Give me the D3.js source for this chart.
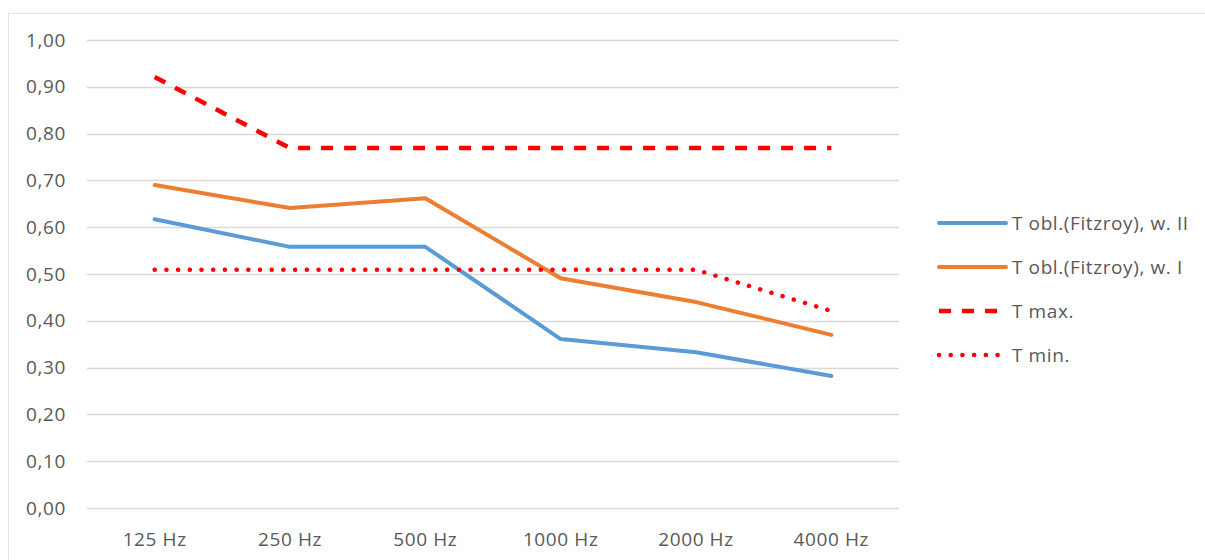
<!DOCTYPE html>
<html>
<head>
<meta charset="utf-8">
<script src="https://cdn.jsdelivr.net/npm/d3@7"></script>
<style>
  body { margin: 0; background: #fff; }
  text { font-family: 'Open Sans', sans-serif; fill: #595959; letter-spacing: 0.6px; }
</style>
</head>
<body>
<div id="chart-area"></div>
<script>
'use strict';

let freqs = ['125 Hz', '250 Hz', '500 Hz', '1000 Hz', '2000 Hz', '4000 Hz'];
let wII = [0.617, 0.558, 0.558, 0.361, 0.333, 0.282];
let wI = [0.690, 0.641, 0.662, 0.491, 0.440, 0.370];
let tMax = [0.921, 0.769, 0.769, 0.769, 0.769, 0.769];
let tMin = [0.509, 0.509, 0.509, 0.509, 0.509, 0.421];
let yTicks = [0, 0.1, 0.2, 0.3, 0.4, 0.5, 0.6, 0.7, 0.8, 0.9, 1.0];
let seriesNames = ['T obl.(Fitzroy), w. II', 'T obl.(Fitzroy), w. I', 'T max.', 'T min.'];

let series = [
    {name: seriesNames[0], values: wII, color: '#5b9bd5', dash: null, cap: 'round'},
    {name: seriesNames[1], values: wI, color: '#ed7d31', dash: null, cap: 'round'},
    {name: seriesNames[2], values: tMax, color: '#ff0000', dash: '12,11', cap: 'butt'},
    {name: seriesNames[3], values: tMin, color: '#ff0000', dash: '0.1,11.6', cap: 'round'}
];

let svg = d3.select('#chart-area').append('svg')
    .attr('width', 1205)
    .attr('height', 560);

// chart frame
svg.append('rect')
    .attr('x', 8.5)
    .attr('y', 13.5)
    .attr('width', 1230)
    .attr('height', 600)
    .attr('fill', 'none')
    .attr('stroke', '#e3e3e3');

let x = d3.scaleBand()
    .domain(freqs)
    .range([87, 899]);

let y = d3.scaleLinear()
    .domain([0, 1])
    .range([508, 40]);

// gridlines
svg.append('g')
    .selectAll('line')
    .data(yTicks)
    .enter()
    .append('line')
        .attr('x1', 87)
        .attr('x2', 899)
        .attr('y1', (d) => Math.round(y(d)) + 0.5)
        .attr('y2', (d) => Math.round(y(d)) + 0.5)
        .attr('stroke', '#d9d9d9')
        .attr('stroke-width', 1.3);

let fmt = (d) => d.toFixed(2).replace('.', ',');

svg.append('g')
    .selectAll('text')
    .data(yTicks)
    .enter()
    .append('text')
        .attr('x', 66)
        .attr('y', (d) => y(d))
        .attr('dy', '0.35em')
        .attr('text-anchor', 'end')
        .style('font-size', '19px')
        .text(fmt);

svg.append('g')
    .selectAll('text')
    .data(freqs)
    .enter()
    .append('text')
        .attr('x', (d) => x(d) + x.bandwidth() / 2)
        .attr('y', 539)
        .attr('dy', '0.35em')
        .attr('text-anchor', 'middle')
        .style('font-size', '19px')
        .text((d) => d);

let line = d3.line()
    .x((d, i) => x(freqs[i]) + x.bandwidth() / 2)
    .y((d) => y(d));

series.forEach((s) => {
    svg.append('path')
        .datum(s.values)
        .attr('d', line)
        .attr('fill', 'none')
        .attr('stroke', s.color)
        .attr('stroke-width', s.dash ? 4.5 : 4)
        .attr('stroke-linecap', s.cap)
        .attr('stroke-linejoin', 'round')
        .attr('stroke-dasharray', s.dash);
});

// legend
let legend = svg.append('g')
    .selectAll('g')
    .data(series)
    .enter()
    .append('g')
        .attr('transform', (d, i) => 'translate(938,' + (223 + i * 44) + ')');

legend.append('line')
    .attr('x1', 1)
    .attr('x2', (d) => d.dash === '0.1,11.6' ? 64 : 68)
    .attr('stroke', (d) => d.color)
    .attr('stroke-width', (d) => d.dash ? 4.5 : 4)
    .attr('stroke-linecap', (d) => d.cap)
    .attr('stroke-dasharray', (d) => d.dash);

legend.append('text')
    .attr('x', 74)
    .attr('dy', '0.35em')
    .style('font-size', '19px')
    .text((d) => d.name);
</script>
</body>
</html>
